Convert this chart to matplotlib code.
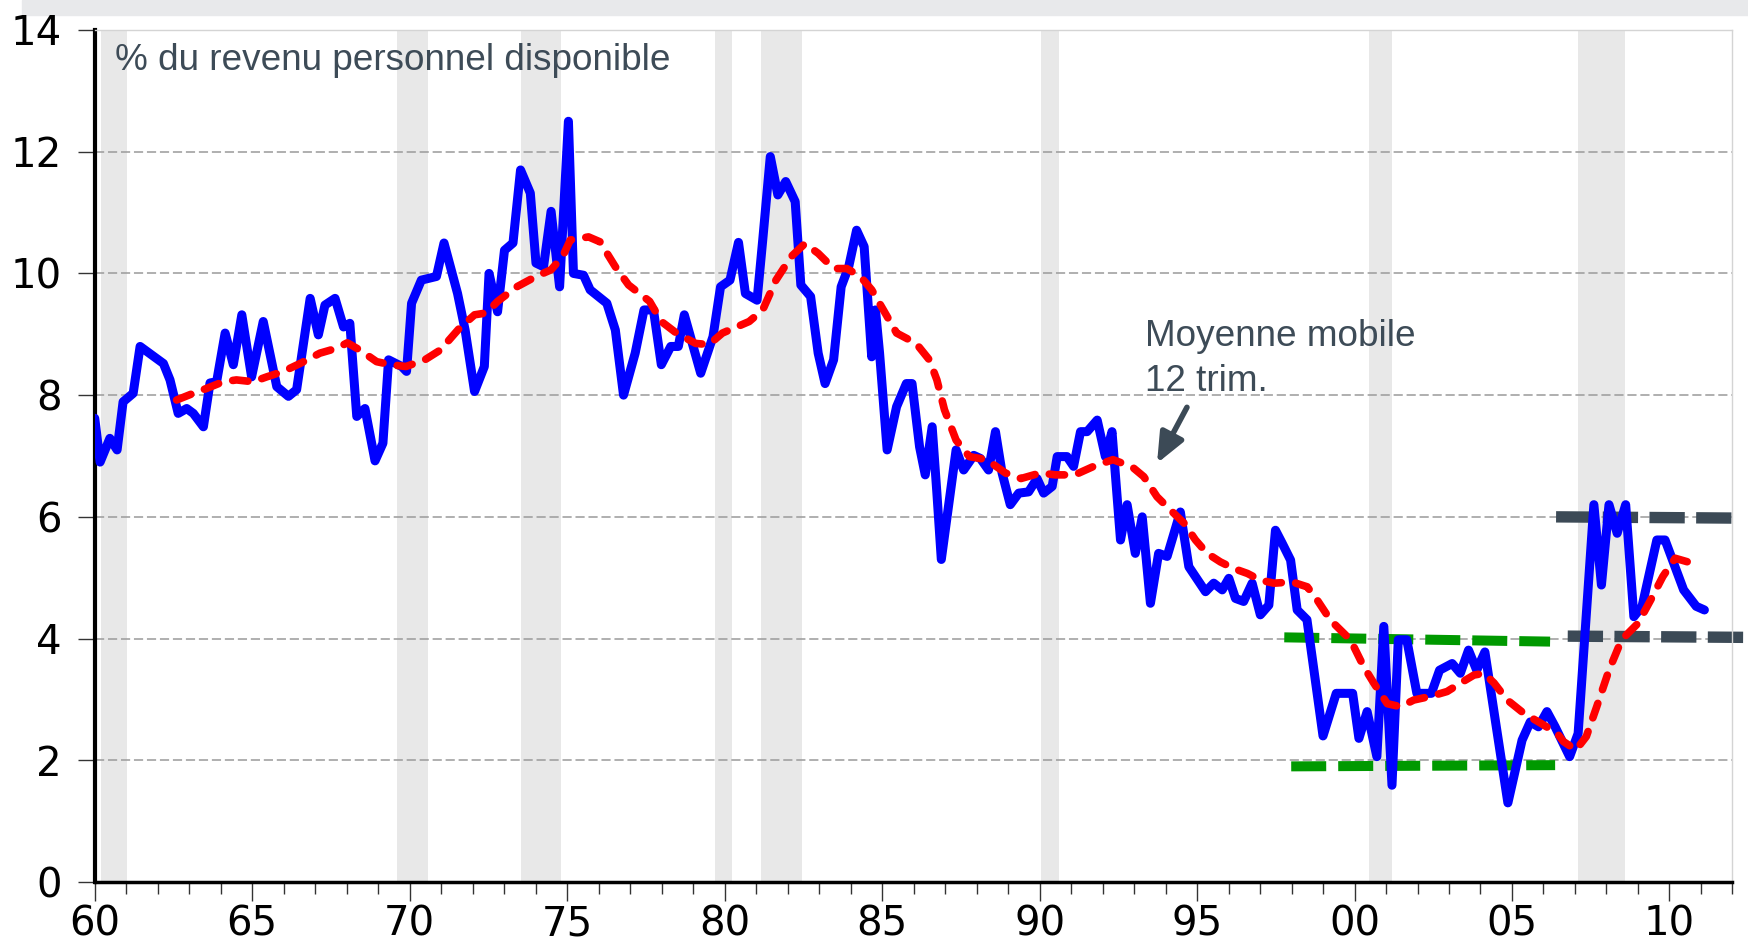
import numpy as np
import matplotlib
matplotlib.use('Agg')
import matplotlib.pyplot as plt
from matplotlib.patches import Rectangle, FancyArrowPatch

plt.rcParams['font.family'] = ['Liberation Sans', 'DejaVu Sans']

# taux d'epargne (% du revenu disponible), sommets
annees_epargne = [
    1960.00, 1960.17, 1960.48, 1960.71, 1960.90, 1961.22, 1961.44, 1962.18, 1962.39, 1962.65,
    1962.92, 1963.13, 1963.45, 1963.66, 1963.87, 1964.14, 1964.40, 1964.67, 1964.98, 1965.35,
    1965.78, 1966.15, 1966.41, 1966.84, 1967.10, 1967.31, 1967.63, 1967.90, 1968.10, 1968.32,
    1968.58, 1968.90, 1969.15, 1969.33, 1969.75, 1969.90, 1970.06, 1970.37, 1970.85, 1971.09,
    1971.52, 1971.76, 1972.06, 1972.37, 1972.52, 1972.79, 1973.01, 1973.28, 1973.52, 1973.83,
    1974.01, 1974.25, 1974.49, 1974.76, 1975.04, 1975.20, 1975.52, 1975.73, 1976.26, 1976.53,
    1976.79, 1977.16, 1977.44, 1977.74, 1977.99, 1978.29, 1978.53, 1978.72, 1979.24, 1979.63,
    1979.87, 1980.17, 1980.44, 1980.66, 1981.03, 1981.21, 1981.45, 1981.69, 1981.94, 1982.24,
    1982.42, 1982.73, 1982.97, 1983.19, 1983.46, 1983.70, 1983.94, 1984.19, 1984.43, 1984.67,
    1984.79, 1984.92, 1985.16, 1985.46, 1985.77, 1985.95, 1986.19, 1986.37, 1986.59, 1986.74,
    1986.88, 1987.35, 1987.59, 1987.91, 1988.12, 1988.38, 1988.60, 1988.81, 1989.07, 1989.34,
    1989.65, 1989.92, 1990.13, 1990.40, 1990.56, 1990.87, 1991.08, 1991.30, 1991.51, 1991.83,
    1992.09, 1992.30, 1992.57, 1992.78, 1993.04, 1993.26, 1993.52, 1993.78, 1994.05, 1994.47,
    1994.74, 1995.27, 1995.53, 1995.80, 1996.01, 1996.22, 1996.48, 1996.75, 1997.01, 1997.28,
    1997.49, 1997.70, 1997.97, 1998.18, 1998.49, 1999.00, 1999.42, 1999.94, 2000.14, 2000.40,
    2000.71, 2000.93, 2001.19, 2001.39, 2001.66, 2001.98, 2002.44, 2002.70, 2003.10, 2003.36,
    2003.62, 2003.88, 2004.14, 2004.87, 2005.32, 2005.58, 2005.84, 2006.11, 2006.37, 2006.83,
    2007.10, 2007.60, 2007.84, 2008.08, 2008.34, 2008.61, 2008.87, 2009.13, 2009.60, 2009.86,
    2010.45, 2010.85, 2011.11,
]
epargne = [
    7.62, 6.90, 7.29, 7.10, 7.89, 8.03, 8.80, 8.52, 8.25, 7.70,
    7.78, 7.70, 7.48, 8.20, 8.22, 9.02, 8.50, 9.32, 8.30, 9.21,
    8.14, 7.98, 8.09, 9.59, 8.99, 9.48, 9.59, 9.12, 9.18, 7.65,
    7.78, 6.92, 7.21, 8.58, 8.47, 8.39, 9.51, 9.89, 9.95, 10.50,
    9.67, 9.07, 8.06, 8.47, 10.00, 9.37, 10.38, 10.50, 11.70, 11.32,
    10.17, 10.11, 11.02, 9.78, 12.50, 10.00, 9.97, 9.73, 9.51, 9.07,
    8.00, 8.69, 9.40, 9.40, 8.50, 8.80, 8.80, 9.32, 8.36, 8.96,
    9.78, 9.89, 10.51, 9.67, 9.56, 10.55, 11.92, 11.29, 11.51, 11.18,
    9.81, 9.62, 8.69, 8.19, 8.58, 9.78, 10.11, 10.71, 10.44, 8.63,
    9.40, 8.69, 7.10, 7.81, 8.19, 8.19, 7.15, 6.69, 7.48, 6.39,
    5.30, 7.10, 6.77, 7.01, 6.96, 6.77, 7.40, 6.72, 6.20, 6.39,
    6.41, 6.63, 6.39, 6.50, 6.99, 6.99, 6.83, 7.40, 7.40, 7.59,
    6.99, 7.40, 5.62, 6.20, 5.40, 6.00, 4.58, 5.40, 5.35, 6.08,
    5.18, 4.77, 4.91, 4.80, 4.99, 4.66, 4.61, 4.91, 4.39, 4.55,
    5.78, 5.57, 5.29, 4.47, 4.31, 2.40, 3.10, 3.10, 2.36, 2.80,
    2.06, 4.20, 1.59, 3.98, 3.98, 3.10, 3.10, 3.48, 3.59, 3.43,
    3.81, 3.48, 3.78, 1.30, 2.33, 2.63, 2.55, 2.80, 2.55, 2.06,
    2.44, 6.20, 4.88, 6.20, 5.73, 6.20, 4.36, 4.53, 5.62, 5.62,
    4.80, 4.53, 4.47,
]

# moyenne mobile 12 trimestres
annees_mm = [
    1962.60, 1963.13, 1963.55, 1964.08, 1964.50, 1965.03, 1965.46, 1965.99, 1966.52, 1967.15,
    1967.68, 1968.02, 1968.42, 1968.95, 1969.40, 1969.88, 1970.48, 1970.97, 1971.58, 1972.06,
    1972.43, 1972.79, 1973.40, 1974.01, 1974.49, 1974.86, 1975.10, 1975.68, 1976.04, 1976.53,
    1976.95, 1977.62, 1977.99, 1978.47, 1979.08, 1979.50, 1979.93, 1980.78, 1981.21, 1981.63,
    1982.12, 1982.55, 1982.97, 1983.46, 1983.88, 1984.31, 1984.67, 1985.04, 1985.46, 1986.08,
    1986.50, 1986.74, 1986.98, 1987.35, 1987.77, 1988.32, 1988.92, 1989.41, 1990.02, 1990.51,
    1991.12, 1991.72, 1992.33, 1992.94, 1993.31, 1993.73, 1994.16, 1994.58, 1994.95, 1995.32,
    1995.74, 1996.17, 1996.60, 1997.01, 1997.44, 1998.02, 1998.50, 1998.82, 1999.24, 1999.87,
    2000.29, 2000.61, 2001.04, 2001.46, 2001.88, 2002.41, 2002.94, 2003.37, 2003.79, 2004.11,
    2004.43, 2004.85, 2005.38, 2005.91, 2006.44, 2006.63, 2007.03, 2007.36, 2007.69, 2008.08,
    2008.48, 2009.00, 2009.40, 2009.79, 2010.18, 2010.58, 2010.91,
]
moyenne_mobile = [
    7.92, 8.03, 8.11, 8.22, 8.25, 8.22, 8.30, 8.39, 8.52, 8.69,
    8.77, 8.86, 8.74, 8.55, 8.50, 8.47, 8.58, 8.74, 9.10, 9.32,
    9.35, 9.54, 9.78, 9.95, 10.06, 10.28, 10.55, 10.60, 10.52, 10.11,
    9.81, 9.54, 9.21, 9.02, 8.85, 8.83, 9.02, 9.21, 9.40, 9.89,
    10.28, 10.49, 10.33, 10.08, 10.08, 9.95, 9.73, 9.40, 9.02, 8.85,
    8.58, 8.25, 7.76, 7.26, 6.99, 6.94, 6.72, 6.63, 6.72, 6.69,
    6.69, 6.83, 6.94, 6.82, 6.66, 6.33, 6.11, 5.90, 5.62, 5.40,
    5.26, 5.15, 5.07, 4.96, 4.91, 4.93, 4.85, 4.63, 4.30, 3.98,
    3.54, 3.27, 2.93, 2.88, 2.99, 3.05, 3.13, 3.27, 3.40, 3.43,
    3.27, 2.99, 2.77, 2.61, 2.44, 2.31, 2.17, 2.39, 2.88, 3.48,
    3.98, 4.25, 4.63, 5.02, 5.32, 5.26, 5.15,
]

# recessions (zones grisees)
recessions = [
    (1960.19, 1961.01), (1969.60, 1970.59), (1973.53, 1974.82), (1979.70, 1980.23),
    (1981.17, 1982.47), (1990.06, 1990.61), (2000.45, 2001.20), (2007.09, 2008.58),
]

# niveaux reperes (debut, fin) x (valeur debut, valeur fin)
vert_haut_x, vert_haut_y = [1997.77, 2006.21], [4.02, 3.95]
vert_bas_x, vert_bas_y = [1997.99, 2006.37], [1.90, 1.92]
gris_haut_x, gris_haut_y = [2006.40, 2012.00], [6.00, 5.98]
gris_bas_x, gris_bas_y = [2006.77, 2012.35], [4.04, 4.02]

ticks_annees = list(range(1960, 2011, 5))
ticks_labels = ['60', '65', '70', '75', '80', '85', '90', '95', '00', '05', '10']
yticks = [0, 2, 4, 6, 8, 10, 12, 14]

texte_col = '#3d4b57'

fig = plt.figure(figsize=(17.48, 9.49), dpi=100)
fig.patches.append(Rectangle((22 / 1748, 1 - 15 / 949), 1, 15 / 949,
                             transform=fig.transFigure, color='#e8e9eb', zorder=-5))
ax = fig.add_axes([0.0542, 0.0706, 0.9369, 0.8978])

for a, b in recessions:
    ax.axvspan(a, b, color='#e8e8e8', lw=0, zorder=0)

for v in yticks[1:-1]:
    ax.axhline(v, color='#9a9a9a', lw=1.1, ls=(0, (6, 2.5)), zorder=1)

for xs, ys, col, lw, dash in [
    (vert_haut_x, vert_haut_y, '#009900', 7.2, (3.5, 1.2)),
    (vert_bas_x, vert_bas_y, '#009900', 7.2, (3.5, 1.2)),
    (gris_haut_x, gris_haut_y, '#3c4a56', 8.2, (3.1, 1.0)),
    (gris_bas_x, gris_bas_y, '#3c4a56', 8.2, (3.1, 1.0)),
]:
    ax.plot(xs, ys, color=col, lw=lw, ls=(0, dash), dash_capstyle='butt',
            zorder=2, clip_on=False)

ax.plot(annees_epargne, epargne, color='#0000ff', lw=6.5, solid_joinstyle='round',
        solid_capstyle='round', zorder=3)
ax.plot(annees_mm, moyenne_mobile, color='#ff0000', lw=5.5, ls=(0, (2.0, 1.9)),
        dash_capstyle='round', zorder=4)

ax.set_xlim(1960, 2012)
ax.set_ylim(0, 14)
ax.set_xticks(ticks_annees)
ax.set_xticklabels(ticks_labels, family='DejaVu Sans', fontsize=29)
ax.set_xticks(range(1960, 2013), minor=True)
ax.set_yticks(yticks)
ax.set_yticklabels([str(v) for v in yticks], family='DejaVu Sans', fontsize=29)
ax.tick_params(axis='x', which='major', length=13.5, width=1, color='#333333', pad=3)
ax.tick_params(axis='x', which='minor', length=8.5, width=1, color='#333333')
ax.tick_params(axis='y', length=12, width=1, color='#333333', pad=12)

ax.spines['left'].set_linewidth(3)
ax.spines['bottom'].set_linewidth(2.5)
for s in ['top', 'right']:
    ax.spines[s].set_color('#d4d4d4')
    ax.spines[s].set_linewidth(1)

ax.text(1960.64, 13.34, '% du revenu personnel disponible', fontsize=26.6,
        color=texte_col, va='baseline', ha='left')
ax.text(1993.36, 8.80, 'Moyenne mobile', fontsize=26.6, color=texte_col,
        va='baseline', ha='left', zorder=6)
ax.text(1993.36, 8.07, '12 trim.', fontsize=26.6, color=texte_col,
        va='baseline', ha='left', zorder=6)
ax.add_patch(FancyArrowPatch((1994.68, 7.80), (1993.73, 6.88),
                             arrowstyle='-|>,head_length=0.75,head_width=0.32',
                             mutation_scale=24, lw=4, color='#3c4a56',
                             shrinkA=0, shrinkB=0, zorder=6))

fig.savefig('out.png', dpi=100)
